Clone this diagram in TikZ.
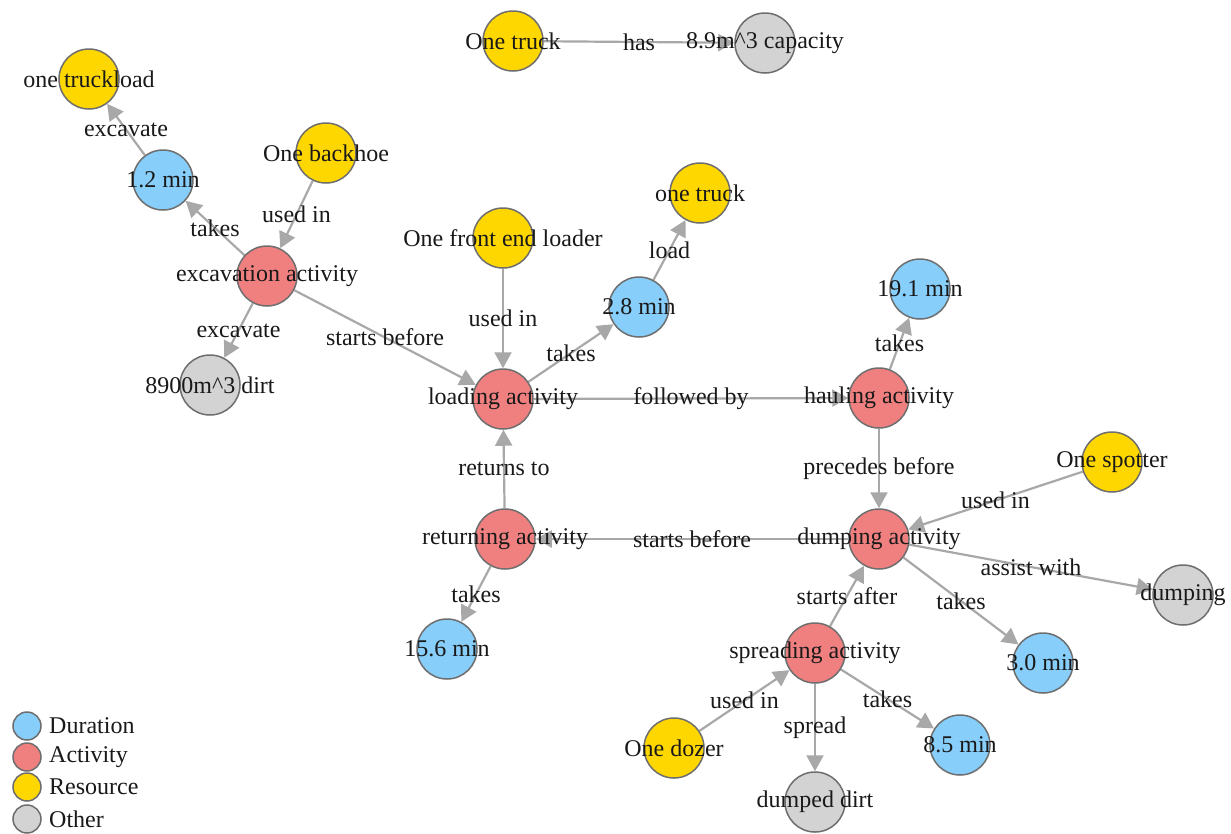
\documentclass[tikz,border=0pt]{standalone}
\usepackage{fontspec}
\setmainfont{Liberation Serif}
\usetikzlibrary{arrows.meta}
\pgfdeclarelayer{bg}
\pgfdeclarelayer{paper}
\pgfsetlayers{paper,bg,main}
\definecolor{cdur}{RGB}{135,206,250}
\definecolor{cact}{RGB}{240,128,128}
\definecolor{cres}{RGB}{255,215,0}
\definecolor{coth}{RGB}{211,211,211}
\definecolor{cborder}{RGB}{110,110,110}
\definecolor{cedge}{RGB}{168,168,168}
\definecolor{ctext}{RGB}{25,25,25}
\begin{document}
\begin{tikzpicture}[x=1pt,y=-1pt,
  every node/.style={font=\fontsize{24}{28}\selectfont, text=ctext},
  vnode/.style={circle, draw=cborder, line width=1.5pt, minimum size=60pt, inner sep=0pt},
  dur/.style={vnode, fill=cdur},
  act/.style={vnode, fill=cact},
  res/.style={vnode, fill=cres},
  oth/.style={vnode, fill=coth},
  lnode/.style={circle, draw=cborder, line width=1.5pt, minimum size=28pt, inner sep=0pt},
  vtext/.style={inner sep=0pt},
  edge/.style={draw=cedge, line width=2.2pt, -{Triangle[length=16pt,width=17pt]}},
  elabel/.style={inner sep=0pt, midway}
]
\begin{pgfonlayer}{paper}
\fill[white] (0,0) rectangle (1231,833);
\end{pgfonlayer}
\useasboundingbox (0,0) rectangle (1231,833);

% nodes
\node[res] (tl) at (89,79) {};
\node[dur] (d12) at (163,180) {};
\node[res] (bh) at (326,153) {};
\node[act] (exc) at (267,276) {};
\node[oth] (dirt) at (210,385) {};
\node[res] (trk) at (513,41) {};
\node[oth] (cap) at (765,43) {};
\node[res] (trk2) at (700,193) {};
\node[res] (fel) at (503,238) {};
\node[dur] (d28) at (639,307) {};
\node[act] (load) at (503,399) {};
\node[act] (haul) at (879,398) {};
\node[dur] (d191) at (920,289) {};
\node[act] (ret) at (505,539) {};
\node[act] (dump) at (879,539) {};
\node[dur] (d156) at (447,649) {};
\node[res] (spot) at (1112,462) {};
\node[oth] (dmp) at (1183,595) {};
\node[dur] (d30) at (1043,663) {};
\node[act] (spr) at (815,653) {};
\node[res] (dozer) at (674,748) {};
\node[dur] (d85) at (960,745) {};
\node[oth] (dd) at (815,802) {};

% node texts
\node[vtext] (ttl) at (tl.center) {one truckload};
\node[vtext] (td12) at (d12.center) {1.2 min};
\node[vtext] (tbh) at (bh.center) {One backhoe};
\node[vtext] (texc) at (exc.center) {excavation activity};
\node[vtext] (tdirt) at (dirt.center) {8900m\^{}3 dirt};
\node[vtext] (ttrk) at (trk.center) {One truck};
\node[vtext] (tcap) at (cap.center) {8.9m\^{}3 capacity};
\node[vtext] (ttrk2) at (trk2.center) {one truck};
\node[vtext] (tfel) at (fel.center) {One front end loader};
\node[vtext] (td28) at (d28.center) {2.8 min};
\node[vtext] (tload) at (load.center) {loading activity};
\node[vtext] (thaul) at (haul.center) {hauling activity};
\node[vtext] (td191) at (d191.center) {19.1 min};
\node[vtext] (tret) at (ret.center) {returning activity};
\node[vtext] (tdump) at (dump.center) {dumping activity};
\node[vtext] (td156) at (d156.center) {15.6 min};
\node[vtext] (tspot) at (spot.center) {One spotter};
\node[vtext] (tdmp) at (dmp.center) {dumping};
\node[vtext] (td30) at (d30.center) {3.0 min};
\node[vtext] (tspr) at (spr.center) {spreading activity};
\node[vtext] (tdozer) at (dozer.center) {One dozer};
\node[vtext] (td85) at (d85.center) {8.5 min};
\node[vtext] (tdd) at (dd.center) {dumped dirt};

% edges
\begin{pgfonlayer}{bg}
\draw[edge] (d12) -- node[elabel]{excavate} (tl);
\draw[edge] (exc) -- node[elabel]{takes} (d12);
\draw[edge] (bh) -- node[elabel]{used in} (exc);
\draw[edge] (exc) -- node[elabel]{excavate} (dirt);
\draw[edge] (exc) -- node[elabel]{starts before} (load);
\draw[edge] (trk) -- node[elabel]{has} (cap);
\draw[edge] (fel) -- node[elabel]{used in} (load);
\draw[edge] (load) -- node[elabel]{takes} (d28);
\draw[edge] (d28) -- node[elabel]{load} (trk2);
\draw[edge] (load) -- node[elabel]{followed by} (haul);
\draw[edge] (haul) -- node[elabel]{takes} (d191);
\draw[edge] (haul) -- node[elabel]{precedes before} (dump);
\draw[edge] (ret) -- node[elabel]{returns to} (load);
\draw[edge] (dump) -- node[elabel]{starts before} (ret);
\draw[edge] (ret) -- node[elabel]{takes} (d156);
\draw[edge] (spot) -- node[elabel]{used in} (dump);
\draw[edge] (dump) -- node[elabel]{assist with} (dmp);
\draw[edge] (dump) -- node[elabel]{takes} (d30);
\draw[edge] (spr) -- node[elabel]{starts after} (dump);
\draw[edge] (dozer) -- node[elabel]{used in} (spr);
\draw[edge] (spr) -- node[elabel]{spread} (dd);
\draw[edge] (spr) -- node[elabel]{takes} (d85);
\end{pgfonlayer}

% legend
\node[lnode, fill=cdur] (lg1) at (27,726) {};
\node[lnode, fill=cact] (lg2) at (27,757) {};
\node[lnode, fill=cres] (lg3) at (27,787) {};
\node[lnode, fill=coth] (lg4) at (27,819) {};
\node[vtext, anchor=west] (lt1) at (49,726) {Duration};
\node[vtext, anchor=west] (lt2) at (49,757) {Activity};
\node[vtext, anchor=west] (lt3) at (49,787) {Resource};
\node[vtext, anchor=west] (lt4) at (49,819) {Other};
\end{tikzpicture}
\end{document}
